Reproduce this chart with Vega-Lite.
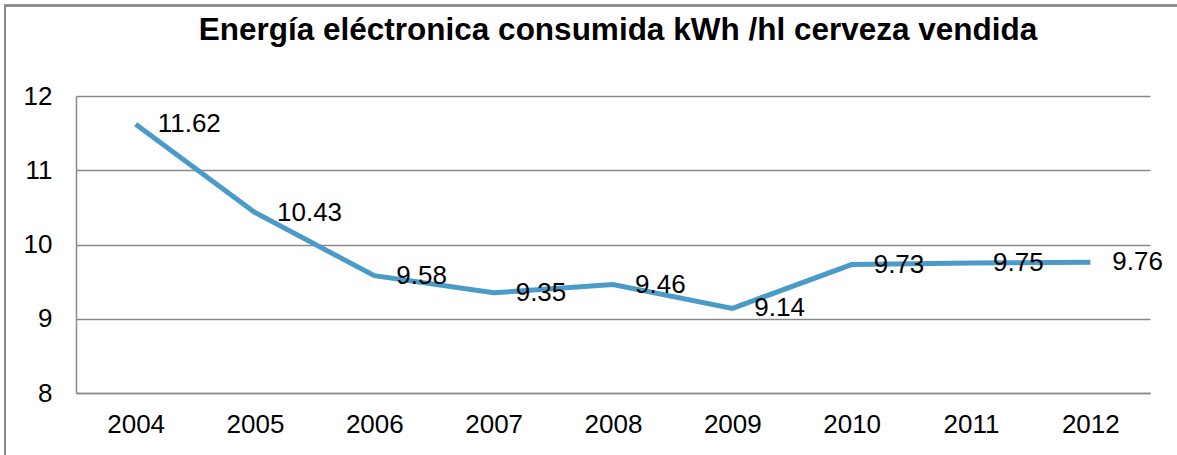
{
  "$schema": "https://vega.github.io/schema/vega-lite/v6.json",
  "width": 1074,
  "height": 297,
  "autosize": {"type": "none"},
  "padding": {"left": 76, "top": 96, "right": 27, "bottom": 62},
  "background": "white",
  "config": {
    "font": "Liberation Sans",
    "view": {"stroke": null},
    "axis": {"labelFont": "Liberation Sans", "labelFontSize": 26, "labelColor": "black"}
  },
  "title": {
    "text": "Energía eléctronica consumida kWh /hl cerveza vendida",
    "font": "Liberation Sans",
    "fontSize": 31.5,
    "fontWeight": "bold",
    "color": "black",
    "anchor": "middle",
    "frame": "group",
    "baseline": "alphabetic",
    "dx": 5,
    "offset": -67
  },
  "data": {
    "values": [
      {"year": 2004, "value": 11.62},
      {"year": 2005, "value": 10.43},
      {"year": 2006, "value": 9.58},
      {"year": 2007, "value": 9.35},
      {"year": 2008, "value": 9.46},
      {"year": 2009, "value": 9.14},
      {"year": 2010, "value": 9.73},
      {"year": 2011, "value": 9.75},
      {"year": 2012, "value": 9.76}
    ]
  },
  "layer": [
    {
      "mark": {"type": "rect", "fill": null, "stroke": "#8a8a8a", "strokeWidth": 1.5, "clip": false},
      "encoding": {
        "x": {"datum": 2002.905, "type": "quantitative"},
        "x2": {"datum": 2012.76},
        "y": {"datum": 13.22, "type": "quantitative"},
        "y2": {"datum": 7.1}
      }
    },
    {
      "mark": {"type": "line", "color": "#4a9bc8", "strokeWidth": 5},
      "encoding": {
        "x": {
          "field": "year",
          "type": "quantitative",
          "scale": {"domain": [2003.5, 2012.5], "nice": false, "zero": false},
          "axis": {
            "title": null,
            "values": [2004, 2005, 2006, 2007, 2008, 2009, 2010, 2011, 2012],
            "format": "d",
            "ticks": false,
            "grid": false,
            "domainColor": "#8a8a8a",
            "domainWidth": 1.5,
            "labelPadding": 18
          }
        },
        "y": {
          "field": "value",
          "type": "quantitative",
          "scale": {"domain": [8, 12], "nice": false, "zero": false},
          "axis": {
            "title": null,
            "values": [8, 9, 10, 11, 12],
            "format": "d",
            "ticks": false,
            "grid": true,
            "gridColor": "#8a8a8a",
            "gridWidth": 1.5,
            "gridOpacity": 1,
            "domainColor": "#8a8a8a",
            "domainWidth": 1.5,
            "labelPadding": 24
          }
        }
      }
    },
    {
      "mark": {"type": "text", "align": "left", "baseline": "middle", "dx": 22, "fontSize": 26, "color": "black", "font": "Liberation Sans"},
      "encoding": {
        "x": {"field": "year", "type": "quantitative"},
        "y": {"field": "value", "type": "quantitative"},
        "text": {"field": "value", "type": "quantitative", "format": ".2f"}
      }
    }
  ]
}
